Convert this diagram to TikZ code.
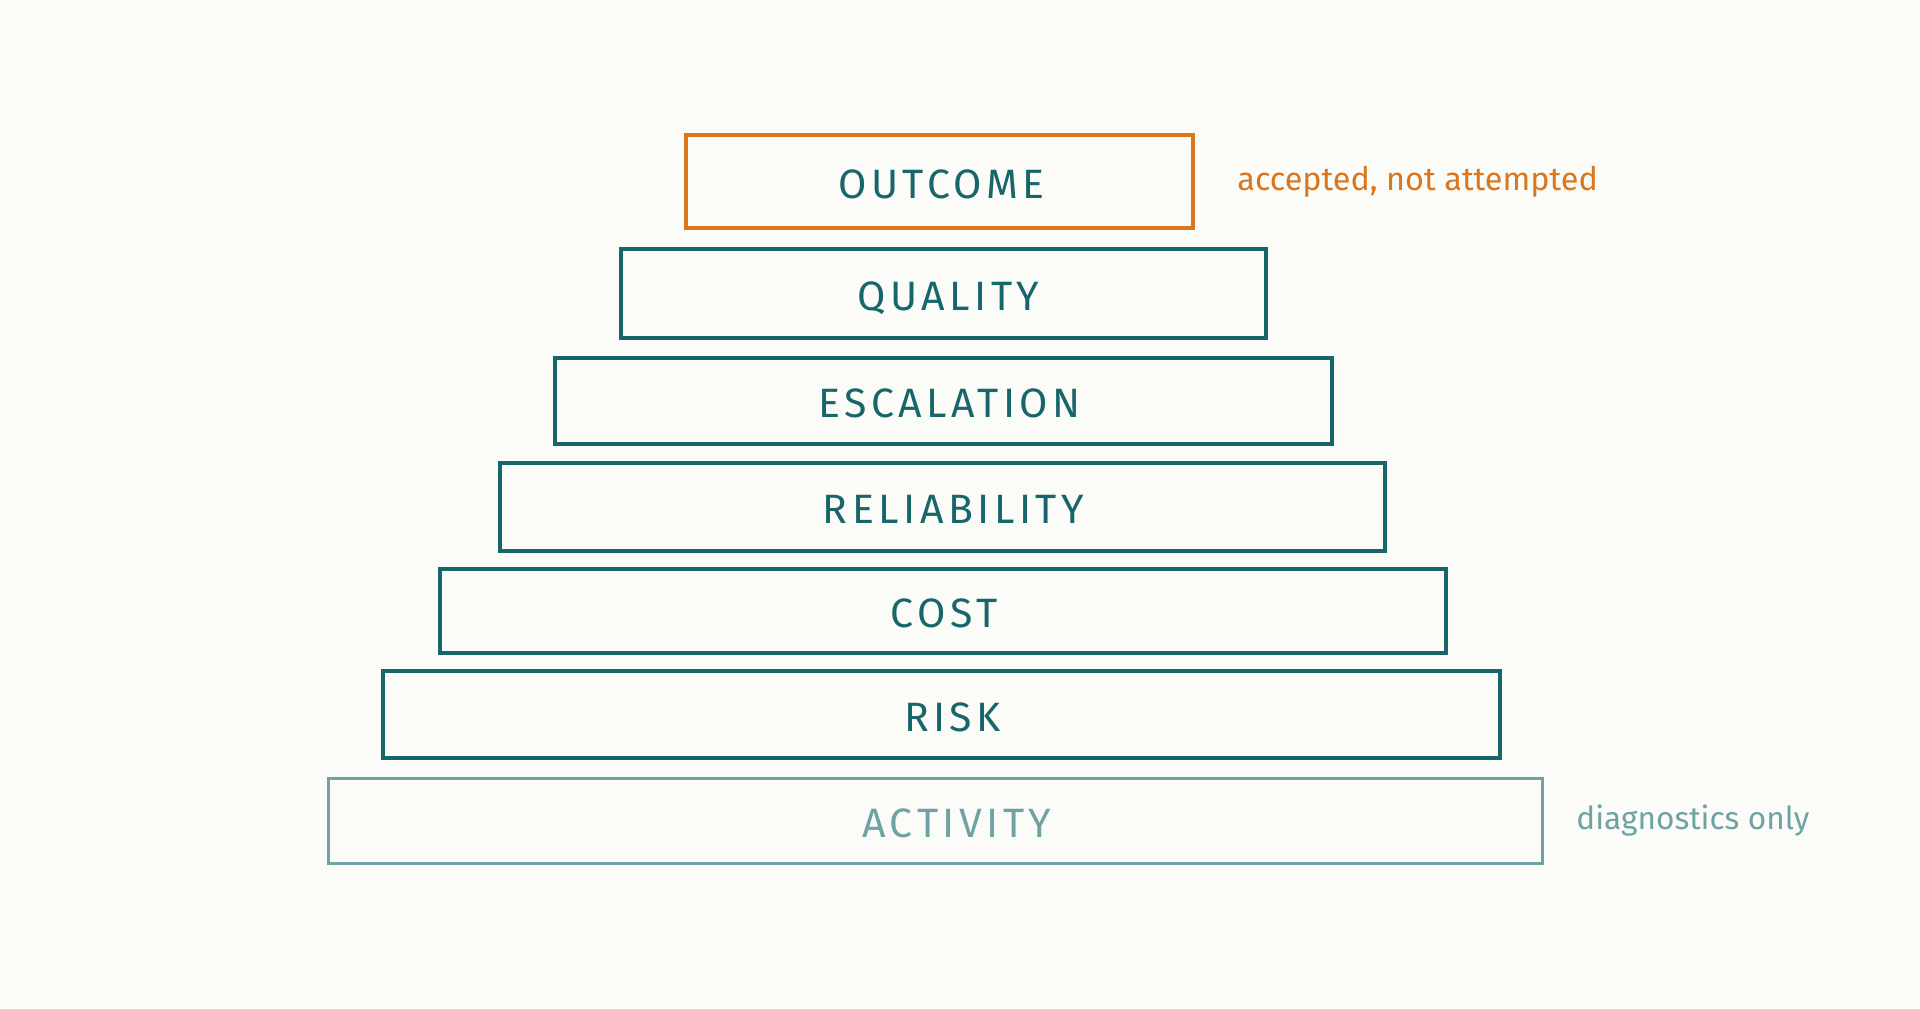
\documentclass[tikz,border=0pt]{standalone}
\usepackage{fontspec}
\setmainfont{Fira Sans}
\newfontfamily\capsfont[LetterSpace=11]{Fira Sans}
\definecolor{bgc}{HTML}{FBFBF8}
\definecolor{tealc}{HTML}{17666A}
\definecolor{lightteal}{HTML}{6FA2A5}
\definecolor{orangec}{HTML}{D9761E}
\tikzset{
  tier/.style={draw=tealc, line width=1.9pt, rectangle, inner sep=0pt,
    text=tealc, font=\capsfont\fontsize{20.5}{24}\selectfont},
  toptier/.style={tier, draw=orangec},
  basetier/.style={tier, draw=lightteal, text=lightteal, line width=1.5pt},
  note/.style={anchor=west, inner sep=0pt, font=\fontsize{16.2}{19}\selectfont}
}
\newcommand{\tierlabel}[2]{\raisebox{-1.4pt}[14.1pt][0pt]{\hspace*{#1}#2}}
\begin{document}
\begin{tikzpicture}[x=0.5pt,y=-0.5pt]
\fill[bgc] (0,0) rectangle (1920,1008);
\useasboundingbox (0,0) rectangle (1920,1008);
\node[toptier, minimum width=253.5pt, minimum height=46.5pt] (outcome) at (939.5,181.5) {\tierlabel{2pt}{OUTCOME}};
\node[tier, minimum width=322.5pt, minimum height=44.5pt] (quality) at (943.5,293.5) {\tierlabel{5pt}{QUALITY}};
\node[tier, minimum width=388.5pt, minimum height=43pt] (escalation) at (943.5,401) {\tierlabel{6pt}{ESCALATION}};
\node[tier, minimum width=442.5pt, minimum height=44pt] (reliability) at (942.5,507) {\tierlabel{11pt}{RELIABILITY}};
\node[tier, minimum width=503pt, minimum height=42pt] (cost) at (943,611) {\tierlabel{1pt}{COST}};
\node[tier, minimum width=558.5pt, minimum height=43.5pt] (risk) at (941.5,714.5) {\tierlabel{11pt}{RISK}};
\node[basetier, minimum width=607pt, minimum height=42.5pt] (activity) at (935,820.5) {\tierlabel{22pt}{ACTIVITY}};
\node[note, text=orangec] (accnote) at (1237,182) {accepted, not attempted};
\node[note, text=lightteal, font=\fontsize{15.8}{19}\selectfont] (diagnote) at (1576,821) {diagnostics only};
\end{tikzpicture}
\end{document}
